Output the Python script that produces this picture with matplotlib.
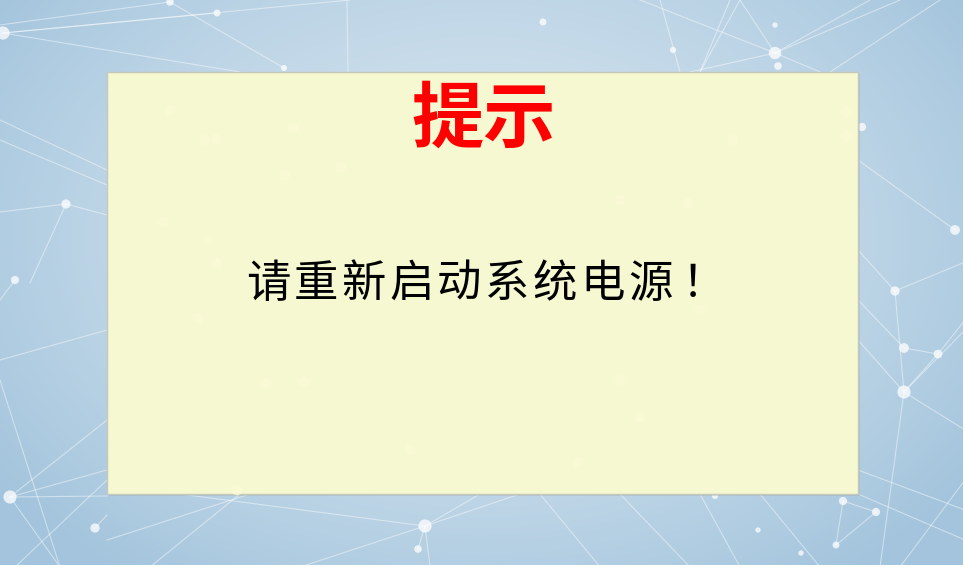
import numpy as np
import matplotlib.pyplot as plt
from matplotlib.patches import Rectangle

plt.rcParams['font.family'] = ['Noto Sans CJK SC', 'DejaVu Sans']

title = "提示"
message = "请重新启动系统电源！"

# background network nodes (pixel coords): x, y, size
node_x = [3, 217, 170, 284, 66, 15, 10, 95, 543, 673, 775, 775, 778, 862,
          955, 425, 418, 895, 904, 938, 904, 843, 876, 758, 836, 801, 715]
node_y = [33, 13, 2, 68, 204, 280, 497, 528, 22, 50, 25, 53, 66, 127,
          230, 526, 549, 291, 348, 354, 392, 501, 512, 530, 545, 553, 496]
node_s = [90, 25, 30, 20, 45, 35, 90, 45, 25, 20, 15, 80, 30, 35,
          50, 90, 30, 45, 50, 40, 90, 35, 35, 15, 25, 15, 20]

# faint glow points inside the panel
glow_x = [170, 205, 216, 293, 341, 285, 163, 208, 217, 198, 266, 304, 237,
          620, 640, 578, 700, 620, 688, 733, 846, 846, 410]
glow_y = [110, 140, 139, 128, 167, 175, 222, 240, 263, 318, 383, 382, 490,
          380, 417, 462, 310, 200, 203, 140, 112, 136, 450]

# line segments of the network: (x0, y0, x1, y1)
edges = [
    (3, 33, 217, 13), (0, 25, 170, 2), (3, 33, 350, 0), (170, 2, 284, 68),
    (3, 33, 240, 72), (0, 140, 107, 185), (66, 204, 0, 212), (66, 204, 30, 283),
    (66, 204, 107, 215), (0, 120, 107, 170), (15, 280, 0, 300),
    (10, 497, 107, 470), (10, 497, 107, 420), (10, 497, 107, 496),
    (10, 497, 60, 567), (95, 528, 107, 515), (0, 360, 107, 330),
    (0, 380, 60, 567), (775, 53, 870, 0), (775, 53, 900, 0), (775, 53, 740, 0),
    (775, 53, 690, 72), (640, 0, 775, 53), (830, 72, 940, 0), (700, 72, 740, 0),
    (775, 53, 820, 72), (730, 0, 700, 72), (660, 0, 680, 72), (347, 0, 348, 72),
    (904, 392, 895, 291), (904, 392, 938, 354), (904, 392, 965, 330),
    (904, 392, 965, 430), (904, 392, 880, 567), (904, 392, 858, 340),
    (895, 291, 858, 250), (895, 291, 965, 262), (904, 348, 858, 300),
    (904, 348, 938, 354), (955, 230, 858, 160), (938, 354, 965, 320),
    (843, 501, 876, 512), (876, 512, 836, 545), (843, 501, 836, 545),
    (760, 494, 820, 567), (700, 494, 740, 567), (620, 494, 690, 567),
    (858, 494, 965, 540), (858, 470, 965, 510), (900, 567, 965, 480),
    (425, 526, 480, 494), (425, 526, 520, 494), (425, 526, 418, 549),
    (425, 526, 430, 567), (425, 526, 300, 567), (425, 526, 180, 494),
    (540, 494, 600, 567), (107, 540, 250, 494), (150, 567, 240, 494),
    (15, 567, 107, 480),
]

W, H = 965, 567
fig = plt.figure(figsize=(9.65, 5.67), dpi=100)
ax = fig.add_axes([0, 0, 1, 1])
ax.set_xlim(0, W)
ax.set_ylim(H, 0)
ax.axis('off')

# soft blue gradient background, lighter in the middle
gx, gy = np.meshgrid(np.linspace(0, 1, 400), np.linspace(0, 1, 240))
r = np.sqrt(((gx - 0.5) / 0.62) ** 2 + ((gy - 0.42) / 0.75) ** 2)
r = np.clip(r, 0, 1)
light = np.array([0.83, 0.89, 0.935])
dark = np.array([0.64, 0.77, 0.865])
img = light + (dark - light) * r[..., None] ** 1.6
ax.imshow(img, extent=[0, 963, 565, 0], zorder=0, aspect='auto')

for x0, y0, x1, y1 in edges:
    ax.plot([x0, x1], [y0, y1], color='white', lw=0.8, alpha=0.45, zorder=1)
ax.scatter(node_x, node_y, s=node_s, color='white', alpha=0.75,
           edgecolors='none', zorder=2)

# the notice panel
ax.add_patch(Rectangle((109, 74), 751, 422, facecolor='#8a9aa6', alpha=0.25,
                       edgecolor='none', zorder=3))
ax.add_patch(Rectangle((107, 72), 751, 422, facecolor='#f5f8d1',
                       edgecolor='#c6c8b8', lw=1.0, zorder=4))
ax.scatter(glow_x, glow_y, s=60, color='#fbfbd8', alpha=0.7,
           edgecolors='none', zorder=5)

ax.text(484, 120, title, color='#ff0000', fontsize=52, fontweight='bold',
        ha='center', va='center', zorder=6)

# message is set with wide letter spacing, one character per cell
step = 47.8
for i, ch in enumerate(message):
    cx = 268 + i * step
    if ch == "！":
        cx += 6
    ax.text(cx, 284, ch, color='black', fontsize=32,
            ha='center', va='center', zorder=6)

fig.savefig('out.png', dpi=100)
